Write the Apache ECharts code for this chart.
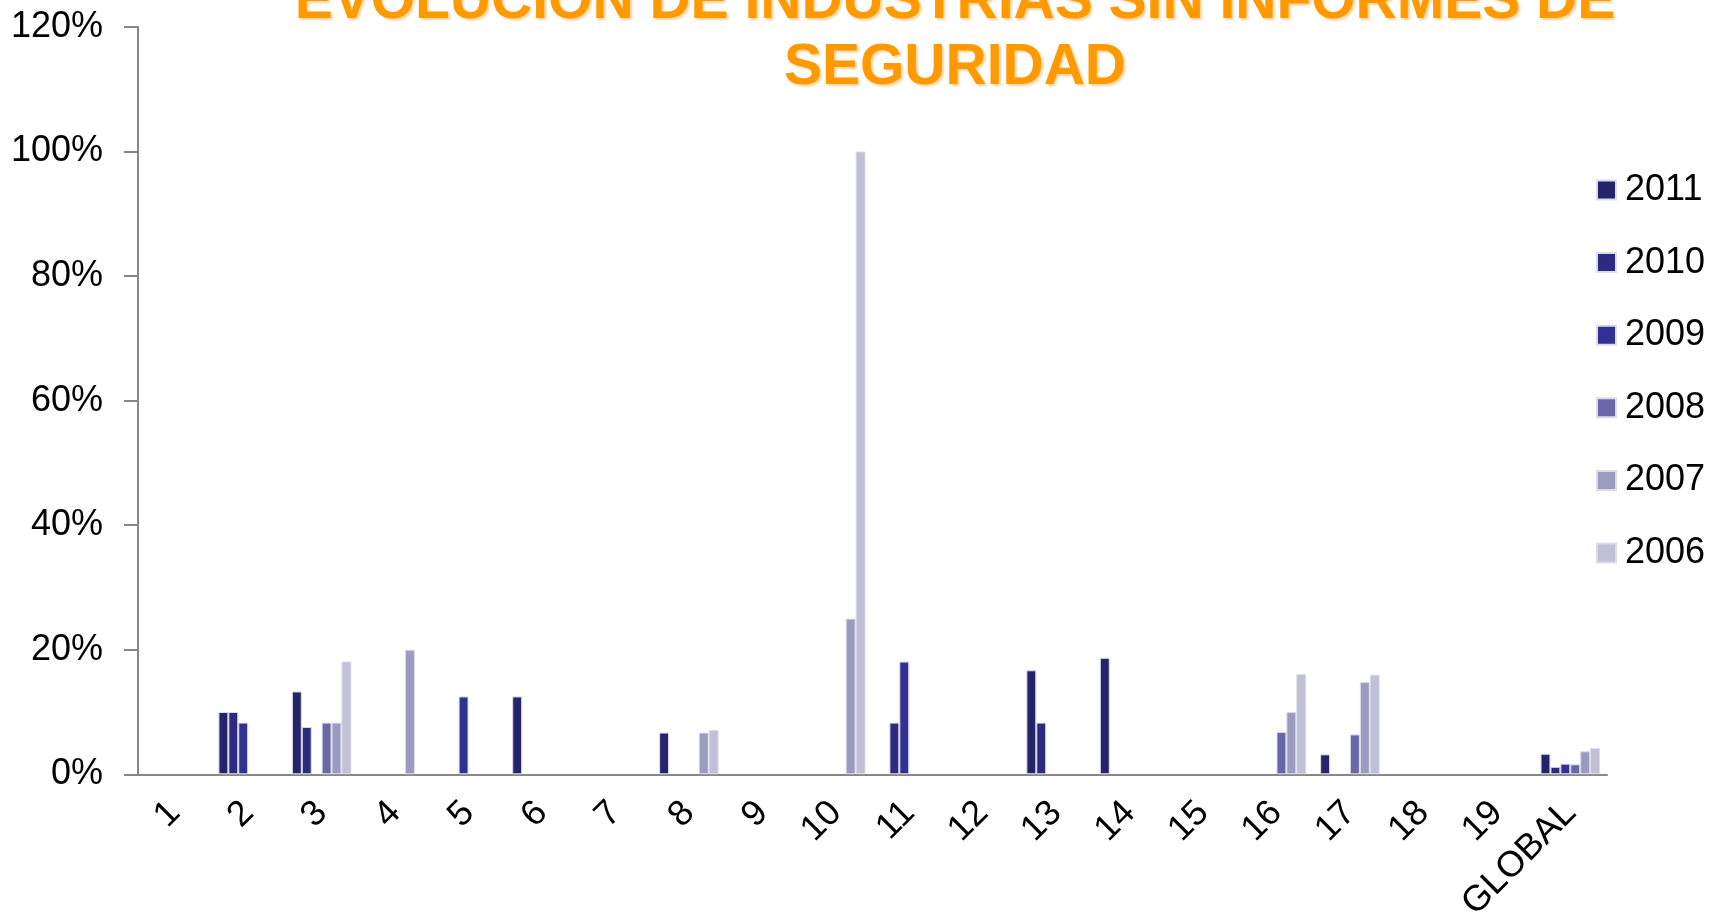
<!DOCTYPE html>
<html>
<head>
<meta charset="utf-8">
<title>Evolución de industrias sin informes de seguridad</title>
<script src="https://cdn.jsdelivr.net/npm/echarts@6/dist/echarts.min.js"></script>
<style>
    html, body { margin: 0; padding: 0; background: #fff; }
    #chart { width: 1713px; height: 924px; }
</style>
</head>
<body>
<div id="chart"></div>
<script>
// categorias (industrias)
var categorias = ['1', '2', '3', '4', '5', '6', '7', '8', '9', '10', '11', '12', '13', '14', '15', '16', '17', '18', '19', 'GLOBAL'];
var anios = ['2011', '2010', '2009', '2008', '2007', '2006'];
var colores = ['#24246b', '#2b2b80', '#313194', '#6868a8', '#9b9bbf', '#c0c0d7'];

// porcentajes (null = sin barra)
var v2011 = [null, 10, 13.3, null, null, 12.5, null, 6.7, null, null, null, null, 16.7, 18.7, null, null, 3.2, null, null, 3.3];
var v2010 = [null, 10, 7.6, null, null, null, null, null, null, null, 8.3, null, 8.3, null, null, null, null, null, null, 1.2];
var v2009 = [null, 8.3, null, null, 12.5, null, null, null, null, null, 18.1, null, null, null, null, null, null, null, null, 1.7];
var v2008 = [null, null, 8.3, null, null, null, null, null, null, null, null, null, null, null, null, 6.8, 6.4, null, null, 1.6];
var v2007 = [null, null, 8.3, 20, null, null, null, 6.7, null, 25, null, null, null, null, null, 10, 14.8, null, null, 3.7];
var v2006 = [null, null, 18.1, null, null, null, null, 7.1, null, 100, null, null, null, null, null, 16.1, 16, null, null, 4.2];
var valores = [v2011, v2010, v2009, v2008, v2007, v2006];

RefreshChart();

//dibujar grafico
function RefreshChart() {
    var myChart = echarts.init(document.getElementById('chart'));
    var series = [];
    for (var i = 0; i < anios.length; i++) {
        series.push({
            name: anios[i],
            type: 'bar',
            data: valores[i],
            barGap: '0%',
            barCategoryGap: '19%',
            itemStyle: {
                color: colores[i],
                borderColor: '#dcdce9',
                borderWidth: 1
            }
        });
    }
    var option = {
        animation: false,
        title: {
            text: 'EVOLUCIÓN DE INDUSTRIAS SIN INFORMES DE\nSEGURIDAD',
            left: 950, // centro del titulo
            textAlign: 'center',
            top: -36,
            textStyle: {
                fontFamily: 'Liberation Sans',
                fontSize: 57,
                fontWeight: 'bold',
                color: '#ff9900',
                lineHeight: 66,
                textShadowColor: 'rgba(255,170,60,0.5)',
                textShadowOffsetX: 2,
                textShadowOffsetY: 2,
                textShadowBlur: 2
            }
        },
        legend: {
            orient: 'vertical',
            left: 1591,
            top: 167,
            itemWidth: 19,
            itemHeight: 19,
            itemGap: 36.6,
            icon: 'rect',
            data: anios,
            textStyle: {
                fontFamily: 'Liberation Sans',
                fontSize: 36,
                color: '#000',
                lineHeight: 36,
                padding: [0, 0, 0, 4]
            }
        },
        grid: {
            left: 138,
            right: 106,
            top: 27,
            bottom: 148
        },
        xAxis: {
            type: 'category',
            data: categorias,
            axisLine: { lineStyle: { color: '#868686', width: 2 } },
            axisTick: { length: 11, lineStyle: { color: '#868686', width: 2 } },
            axisLabel: {
                rotate: 45,
                margin: 33,
                fontFamily: 'Liberation Sans',
                fontSize: 36,
                color: '#000'
            }
        },
        yAxis: {
            type: 'value',
            min: 0,
            max: 120,
            interval: 20,
            splitLine: { show: false },
            axisLine: { show: true, lineStyle: { color: '#868686', width: 2 } },
            axisTick: { show: true, length: 14, lineStyle: { color: '#868686', width: 2 } },
            axisLabel: {
                formatter: '{value}%',
                margin: 35,
                fontFamily: 'Liberation Sans',
                fontSize: 36,
                color: '#000'
            }
        },
        series: series
    };
    myChart.setOption(option);
}
</script>
</body>
</html>
